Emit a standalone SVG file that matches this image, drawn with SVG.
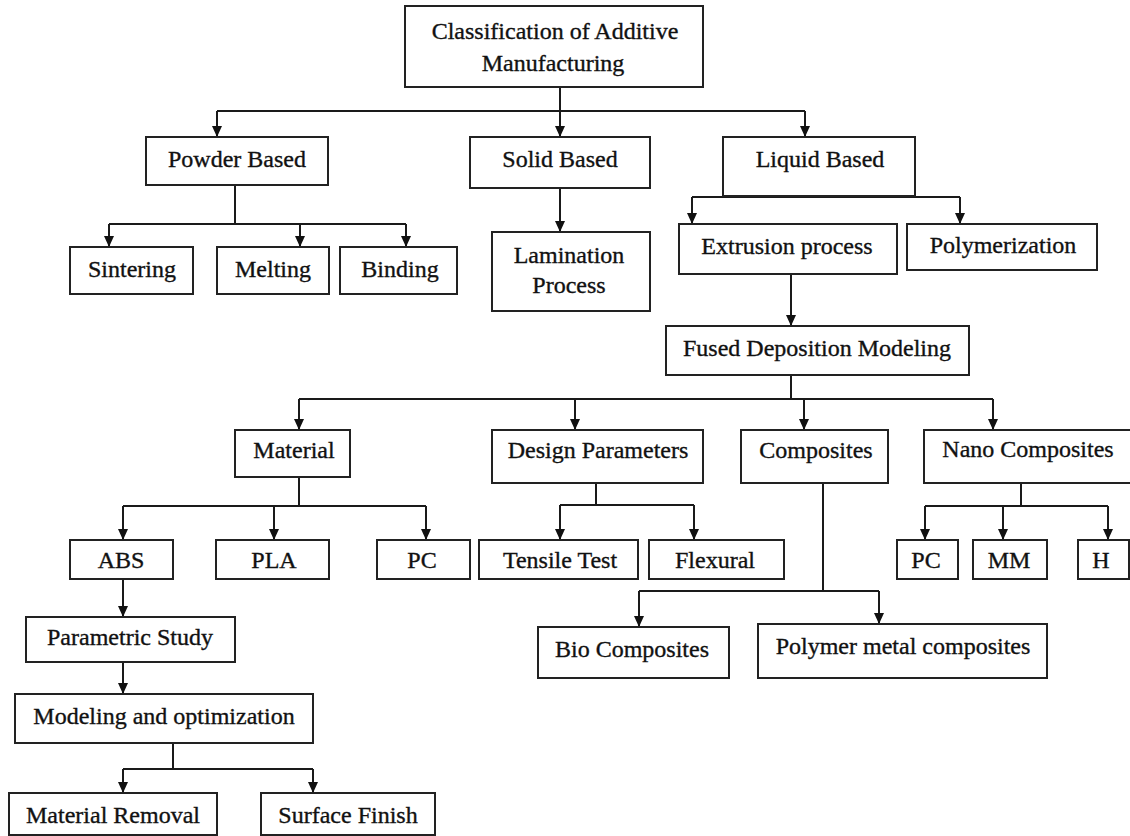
<svg xmlns="http://www.w3.org/2000/svg" width="1130" height="836" viewBox="0 0 1130 836">
<style>
.box{fill:#fff;stroke:#222;stroke-width:2}
.t{font-family:"Liberation Serif","Times New Roman",serif;font-size:24px;fill:#111;stroke:#111;stroke-width:0.35;text-anchor:middle}
.c{fill:none;stroke:#1a1a1a;stroke-width:2}
.a{fill:none;stroke:#1a1a1a;stroke-width:2;marker-end:url(#arr)}
</style>
<defs>
<marker id="arr" viewBox="0 0 11 10" refX="11" refY="5" markerWidth="11" markerHeight="10" markerUnits="userSpaceOnUse" orient="auto">
<path d="M0,0 L11,5 L0,10 z" fill="#111"/>
</marker>
</defs>
<rect width="1130" height="836" fill="#fff"/>
<g id="connectors">
<path class="c" d="M217,111 H805"/>
<path class="a" d="M560,87 V137"/>
<path class="a" d="M217,111 V137"/>
<path class="a" d="M805,111 V137"/>
<path class="c" d="M235,185 V224 M109,224 H406"/>
<path class="a" d="M109,224 V247"/>
<path class="a" d="M300,224 V247"/>
<path class="a" d="M406,224 V247"/>
<path class="a" d="M560,188 V232"/>
<path class="c" d="M692,197 H960"/>
<path class="a" d="M692,197 V224"/>
<path class="a" d="M960,197 V224"/>
<path class="a" d="M791,274 V326"/>
<path class="c" d="M791,375 V399 M299,399 H993"/>
<path class="a" d="M299,399 V430"/>
<path class="a" d="M575,399 V430"/>
<path class="a" d="M804,399 V430"/>
<path class="a" d="M993,399 V430"/>
<path class="c" d="M299,477 V506 M123,506 H426"/>
<path class="a" d="M123,506 V540"/>
<path class="a" d="M274,506 V540"/>
<path class="a" d="M426,506 V540"/>
<path class="c" d="M596,483 V505 M560,505 H694"/>
<path class="a" d="M560,505 V540"/>
<path class="a" d="M694,505 V540"/>
<path class="c" d="M823,483 V591 M639,591 H879"/>
<path class="a" d="M639,591 V627"/>
<path class="a" d="M879,591 V624"/>
<path class="c" d="M1021,483 V506 M925,506 H1108"/>
<path class="a" d="M925,506 V540"/>
<path class="a" d="M1003,506 V540"/>
<path class="a" d="M1108,506 V540"/>
<path class="a" d="M123,579 V617"/>
<path class="a" d="M123,662 V694"/>
<path class="c" d="M173,743 V769 M123,769 H313"/>
<path class="a" d="M123,769 V793"/>
<path class="a" d="M313,769 V793"/>
</g>
<g id="root"><rect class="box" x="405" y="6" width="298" height="81"/><text class="t" x="555" y="39">Classification of Additive</text><text class="t" x="553" y="71">Manufacturing</text></g>
<g id="powder"><rect class="box" x="146" y="137" width="182" height="48"/><text class="t" x="237" y="167">Powder Based</text></g>
<g id="solid"><rect class="box" x="470" y="137" width="180" height="51"/><text class="t" x="560" y="167">Solid Based</text></g>
<g id="liquid"><rect class="box" x="723" y="137" width="192" height="59"/><text class="t" x="820" y="167">Liquid Based</text></g>
<g id="sintering"><rect class="box" x="70" y="247" width="123" height="47"/><text class="t" x="132" y="277">Sintering</text></g>
<g id="melting"><rect class="box" x="217" y="247" width="112" height="47"/><text class="t" x="273" y="277">Melting</text></g>
<g id="binding"><rect class="box" x="340" y="247" width="117" height="47"/><text class="t" x="400" y="277">Binding</text></g>
<g id="lamination"><rect class="box" x="492" y="232" width="158" height="79"/><text class="t" x="569" y="263">Lamination</text><text class="t" x="569" y="293">Process</text></g>
<g id="extrusion"><rect class="box" x="679" y="224" width="218" height="50"/><text class="t" x="787" y="254">Extrusion process</text></g>
<g id="polymerization"><rect class="box" x="907" y="224" width="190" height="46"/><text class="t" x="1003" y="253">Polymerization</text></g>
<g id="fdm"><rect class="box" x="666" y="326" width="303" height="49"/><text class="t" x="817" y="356">Fused Deposition Modeling</text></g>
<g id="material"><rect class="box" x="235" y="430" width="115" height="47"/><text class="t" x="294" y="458">Material</text></g>
<g id="design"><rect class="box" x="492" y="430" width="211" height="53"/><text class="t" x="598" y="458">Design Parameters</text></g>
<g id="composites"><rect class="box" x="741" y="430" width="147" height="53"/><text class="t" x="816" y="458">Composites</text></g>
<g id="nano"><rect class="box" x="924" y="430" width="208" height="53"/><text class="t" x="1028" y="457">Nano Composites</text></g>
<g id="abs"><rect class="box" x="70" y="540" width="103" height="39"/><text class="t" x="121" y="568">ABS</text></g>
<g id="pla"><rect class="box" x="216" y="540" width="113" height="39"/><text class="t" x="274" y="568">PLA</text></g>
<g id="pc1"><rect class="box" x="377" y="540" width="93" height="39"/><text class="t" x="422" y="568">PC</text></g>
<g id="tensile"><rect class="box" x="479" y="540" width="159" height="39"/><text class="t" x="560" y="568">Tensile Test</text></g>
<g id="flexural"><rect class="box" x="649" y="540" width="135" height="39"/><text class="t" x="715" y="568">Flexural</text></g>
<g id="pc2"><rect class="box" x="897" y="540" width="61" height="39"/><text class="t" x="926" y="568">PC</text></g>
<g id="mm"><rect class="box" x="973" y="540" width="74" height="39"/><text class="t" x="1009" y="568">MM</text></g>
<g id="h"><rect class="box" x="1078" y="540" width="51" height="39"/><text class="t" x="1101" y="568">H</text></g>
<g id="bio"><rect class="box" x="538" y="627" width="191" height="51"/><text class="t" x="632" y="657">Bio Composites</text></g>
<g id="pmc"><rect class="box" x="758" y="624" width="289" height="54"/><text class="t" x="903" y="654">Polymer metal composites</text></g>
<g id="parametric"><rect class="box" x="26" y="617" width="209" height="45"/><text class="t" x="130" y="645">Parametric Study</text></g>
<g id="modeling"><rect class="box" x="15" y="694" width="298" height="49"/><text class="t" x="164" y="724">Modeling and optimization</text></g>
<g id="removal"><rect class="box" x="9" y="793" width="208" height="42"/><text class="t" x="113" y="823">Material Removal</text></g>
<g id="surface"><rect class="box" x="261" y="793" width="174" height="42"/><text class="t" x="348" y="823">Surface Finish</text></g>
</svg>
